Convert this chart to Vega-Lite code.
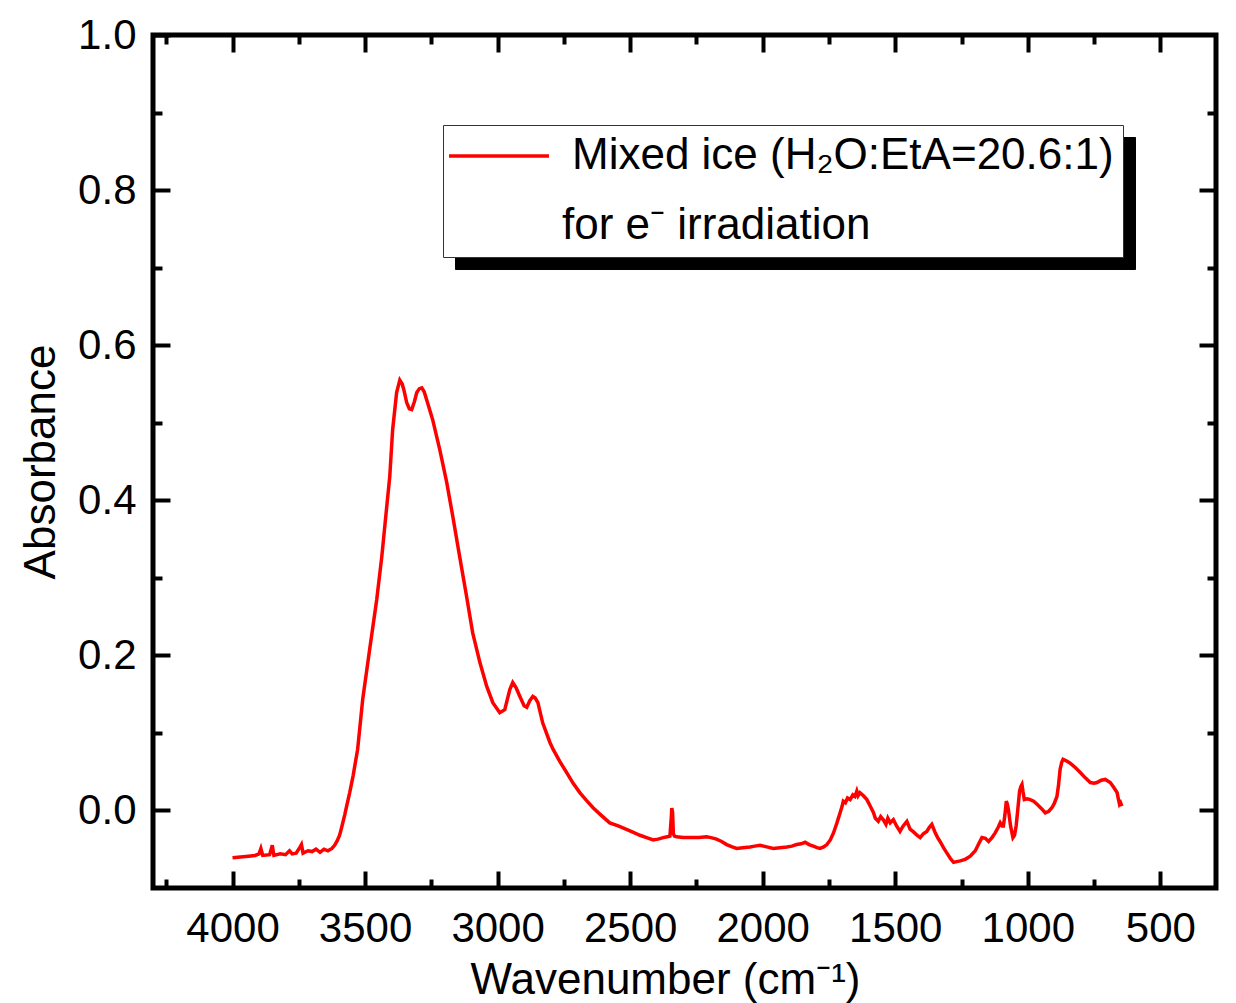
{
  "$schema": "https://vega.github.io/schema/vega-lite/v6.json",
  "width": 1063,
  "height": 853,
  "autosize": {"type": "none"},
  "padding": {"left": 153, "top": 35, "right": 20, "bottom": 115},
  "background": "white",
  "config": {
    "font": "Liberation Sans",
    "view": {"stroke": "black", "strokeWidth": 5},
    "axis": {"grid": false, "domain": false, "tickColor": "black", "tickWidth": 4, "labelColor": "black", "titleColor": "black", "titleFontWeight": "normal"}
  },
  "datasets": {
    "spec": [
      {"x": 4000, "y": -0.061}, {"x": 3970, "y": -0.060}, {"x": 3940, "y": -0.059}, {"x": 3915, "y": -0.058},
      {"x": 3900, "y": -0.056}, {"x": 3893, "y": -0.049}, {"x": 3886, "y": -0.058}, {"x": 3860, "y": -0.057},
      {"x": 3850, "y": -0.045}, {"x": 3844, "y": -0.058}, {"x": 3820, "y": -0.056}, {"x": 3800, "y": -0.057},
      {"x": 3785, "y": -0.052}, {"x": 3775, "y": -0.056}, {"x": 3760, "y": -0.055}, {"x": 3745, "y": -0.047},
      {"x": 3740, "y": -0.044}, {"x": 3734, "y": -0.055}, {"x": 3715, "y": -0.052}, {"x": 3700, "y": -0.053},
      {"x": 3685, "y": -0.050}, {"x": 3670, "y": -0.054}, {"x": 3655, "y": -0.050}, {"x": 3640, "y": -0.052},
      {"x": 3625, "y": -0.049}, {"x": 3615, "y": -0.045}, {"x": 3605, "y": -0.039}, {"x": 3596, "y": -0.032},
      {"x": 3587, "y": -0.020}, {"x": 3577, "y": -0.006}, {"x": 3568, "y": 0.008}, {"x": 3558, "y": 0.023},
      {"x": 3545, "y": 0.045}, {"x": 3528, "y": 0.079}, {"x": 3509, "y": 0.143}, {"x": 3483, "y": 0.207},
      {"x": 3456, "y": 0.272}, {"x": 3437, "y": 0.327}, {"x": 3422, "y": 0.379}, {"x": 3407, "y": 0.430},
      {"x": 3396, "y": 0.491}, {"x": 3381, "y": 0.539}, {"x": 3369, "y": 0.555}, {"x": 3360, "y": 0.550},
      {"x": 3354, "y": 0.543}, {"x": 3343, "y": 0.526}, {"x": 3333, "y": 0.518}, {"x": 3324, "y": 0.517},
      {"x": 3314, "y": 0.527}, {"x": 3305, "y": 0.539}, {"x": 3295, "y": 0.544}, {"x": 3286, "y": 0.545},
      {"x": 3277, "y": 0.540}, {"x": 3268, "y": 0.530}, {"x": 3245, "y": 0.504}, {"x": 3218, "y": 0.465},
      {"x": 3192, "y": 0.423}, {"x": 3169, "y": 0.379}, {"x": 3143, "y": 0.327}, {"x": 3117, "y": 0.276},
      {"x": 3094, "y": 0.229}, {"x": 3067, "y": 0.191}, {"x": 3041, "y": 0.160}, {"x": 3018, "y": 0.139},
      {"x": 2992, "y": 0.126}, {"x": 2973, "y": 0.130}, {"x": 2954, "y": 0.156}, {"x": 2943, "y": 0.165},
      {"x": 2930, "y": 0.158}, {"x": 2916, "y": 0.147}, {"x": 2900, "y": 0.135}, {"x": 2890, "y": 0.133},
      {"x": 2878, "y": 0.142}, {"x": 2867, "y": 0.147}, {"x": 2858, "y": 0.145}, {"x": 2848, "y": 0.139},
      {"x": 2830, "y": 0.113}, {"x": 2803, "y": 0.088}, {"x": 2791, "y": 0.079}, {"x": 2765, "y": 0.063},
      {"x": 2740, "y": 0.049}, {"x": 2715, "y": 0.035}, {"x": 2690, "y": 0.023}, {"x": 2665, "y": 0.013},
      {"x": 2640, "y": 0.0035}, {"x": 2610, "y": -0.006}, {"x": 2577, "y": -0.016}, {"x": 2545, "y": -0.020},
      {"x": 2514, "y": -0.0245}, {"x": 2490, "y": -0.028}, {"x": 2463, "y": -0.032}, {"x": 2438, "y": -0.035},
      {"x": 2413, "y": -0.038}, {"x": 2395, "y": -0.037}, {"x": 2375, "y": -0.035}, {"x": 2360, "y": -0.034},
      {"x": 2350, "y": -0.033}, {"x": 2345, "y": -0.010}, {"x": 2343, "y": 0.003}, {"x": 2340, "y": -0.002},
      {"x": 2337, "y": -0.030}, {"x": 2333, "y": -0.033}, {"x": 2325, "y": -0.034}, {"x": 2300, "y": -0.035},
      {"x": 2275, "y": -0.035}, {"x": 2240, "y": -0.035}, {"x": 2212, "y": -0.034}, {"x": 2195, "y": -0.035},
      {"x": 2174, "y": -0.037}, {"x": 2155, "y": -0.040}, {"x": 2136, "y": -0.044}, {"x": 2115, "y": -0.047},
      {"x": 2098, "y": -0.049}, {"x": 2075, "y": -0.048}, {"x": 2048, "y": -0.047}, {"x": 2030, "y": -0.046},
      {"x": 2010, "y": -0.045}, {"x": 1985, "y": -0.047}, {"x": 1960, "y": -0.049}, {"x": 1935, "y": -0.048},
      {"x": 1909, "y": -0.047}, {"x": 1890, "y": -0.046}, {"x": 1872, "y": -0.044}, {"x": 1855, "y": -0.043},
      {"x": 1840, "y": -0.041}, {"x": 1825, "y": -0.044}, {"x": 1809, "y": -0.046}, {"x": 1795, "y": -0.048},
      {"x": 1784, "y": -0.049}, {"x": 1770, "y": -0.047}, {"x": 1758, "y": -0.044}, {"x": 1745, "y": -0.038},
      {"x": 1733, "y": -0.029}, {"x": 1720, "y": -0.016}, {"x": 1708, "y": -0.003}, {"x": 1700, "y": 0.006},
      {"x": 1696, "y": 0.012}, {"x": 1688, "y": 0.010}, {"x": 1680, "y": 0.016}, {"x": 1670, "y": 0.014},
      {"x": 1660, "y": 0.020}, {"x": 1652, "y": 0.018}, {"x": 1645, "y": 0.025}, {"x": 1640, "y": 0.019},
      {"x": 1633, "y": 0.023}, {"x": 1620, "y": 0.019}, {"x": 1607, "y": 0.014}, {"x": 1595, "y": 0.006},
      {"x": 1582, "y": -0.003}, {"x": 1575, "y": -0.010}, {"x": 1564, "y": -0.014}, {"x": 1555, "y": -0.008},
      {"x": 1545, "y": -0.012}, {"x": 1535, "y": -0.018}, {"x": 1528, "y": -0.010}, {"x": 1519, "y": -0.016},
      {"x": 1507, "y": -0.012}, {"x": 1495, "y": -0.020}, {"x": 1482, "y": -0.027}, {"x": 1470, "y": -0.020},
      {"x": 1456, "y": -0.014}, {"x": 1444, "y": -0.024}, {"x": 1430, "y": -0.028}, {"x": 1418, "y": -0.032},
      {"x": 1406, "y": -0.035}, {"x": 1394, "y": -0.030}, {"x": 1381, "y": -0.027}, {"x": 1372, "y": -0.022},
      {"x": 1362, "y": -0.018}, {"x": 1350, "y": -0.028}, {"x": 1340, "y": -0.035}, {"x": 1331, "y": -0.040},
      {"x": 1318, "y": -0.048}, {"x": 1305, "y": -0.055}, {"x": 1292, "y": -0.062}, {"x": 1280, "y": -0.067},
      {"x": 1268, "y": -0.066}, {"x": 1255, "y": -0.065}, {"x": 1236, "y": -0.063}, {"x": 1217, "y": -0.059},
      {"x": 1198, "y": -0.052}, {"x": 1185, "y": -0.043}, {"x": 1173, "y": -0.035}, {"x": 1160, "y": -0.036},
      {"x": 1148, "y": -0.040}, {"x": 1135, "y": -0.035}, {"x": 1123, "y": -0.029}, {"x": 1112, "y": -0.022},
      {"x": 1104, "y": -0.016}, {"x": 1097, "y": -0.020}, {"x": 1092, "y": -0.020}, {"x": 1086, "y": -0.005},
      {"x": 1081, "y": 0.012}, {"x": 1077, "y": 0.008}, {"x": 1073, "y": 0.001}, {"x": 1065, "y": -0.020},
      {"x": 1056, "y": -0.035}, {"x": 1050, "y": -0.032}, {"x": 1044, "y": -0.020}, {"x": 1038, "y": 0.000},
      {"x": 1031, "y": 0.025}, {"x": 1026, "y": 0.031}, {"x": 1022, "y": 0.0335}, {"x": 1018, "y": 0.024},
      {"x": 1013, "y": 0.014}, {"x": 1002, "y": 0.015}, {"x": 991, "y": 0.014}, {"x": 978, "y": 0.012},
      {"x": 965, "y": 0.008}, {"x": 950, "y": 0.003}, {"x": 934, "y": -0.003}, {"x": 921, "y": -0.001},
      {"x": 909, "y": 0.0035}, {"x": 900, "y": 0.009}, {"x": 890, "y": 0.018}, {"x": 884, "y": 0.033},
      {"x": 878, "y": 0.053}, {"x": 872, "y": 0.062}, {"x": 867, "y": 0.066}, {"x": 855, "y": 0.064},
      {"x": 840, "y": 0.061}, {"x": 820, "y": 0.055}, {"x": 802, "y": 0.049}, {"x": 783, "y": 0.042},
      {"x": 764, "y": 0.036}, {"x": 750, "y": 0.035}, {"x": 739, "y": 0.036}, {"x": 723, "y": 0.039},
      {"x": 708, "y": 0.040}, {"x": 698, "y": 0.038}, {"x": 689, "y": 0.036}, {"x": 676, "y": 0.030},
      {"x": 663, "y": 0.023}, {"x": 659, "y": 0.016}, {"x": 654, "y": 0.008}, {"x": 650, "y": 0.010},
      {"x": 645, "y": 0.0055}
    ]
  },
  "data": {"name": "spec"},
  "resolve": {"axis": {"x": "independent", "y": "independent"}, "legend": {"color": "independent"}},
  "layer": [
    {
      "mark": {"type": "line", "opacity": 0},
      "encoding": {
        "x": {"field": "x", "type": "quantitative", "sort": null,
          "scale": {"domain": [290, 4300], "reverse": true, "nice": false, "zero": false},
          "axis": {"orient": "top", "values": [4000, 3500, 3000, 2500, 2000, 1500, 1000, 500], "tickSize": -17, "labels": false, "title": null}},
        "y": {"field": "y", "type": "quantitative",
          "scale": {"domain": [-0.1, 1.0], "nice": false, "zero": false},
          "axis": {"orient": "right", "values": [0, 0.2, 0.4, 0.6, 0.8], "tickSize": -17, "labels": false, "title": null}},
        "color": {"datum": "Mixed ice (H₂O:EtA=20.6:1)", "type": "nominal",
          "scale": {"range": ["#ff0000"]},
          "legend": {"orient": "none", "legendX": 302, "legendY": 102,
            "title": "\u200b\u00a0\u00a0\u00a0\u00a0\u00a0\u00a0\u00a0\u00a0\u00a0for e⁻ irradiation",
            "titleOrient": "bottom", "titleAnchor": "start", "titleFontSize": 44, "titleFontWeight": "normal", "titleColor": "black", "titleOpacity": 0, "titlePadding": 26, "titleLimit": 2000,
            "labelFontSize": 44, "labelColor": "black", "labelOpacity": 0, "labelOffset": 76, "labelLimit": 2000,
            "symbolType": "M-2,0H6", "symbolSize": 625, "symbolStrokeWidth": 3.5, "symbolOpacity": 0,
            "strokeColor": "black", "fillColor": "black", "padding": 9}}
      }
    },
    {
      "mark": {"type": "line", "color": "#ff0000", "strokeWidth": 3.5},
      "encoding": {
        "x": {"field": "x", "type": "quantitative", "sort": null,
          "axis": {"orient": "bottom", "values": [4000, 3500, 3000, 2500, 2000, 1500, 1000, 500], "format": "d", "tickSize": -17,
            "labelFontSize": 42, "labelPadding": 37, "labelFlush": false, "labelOverlap": false,
            "title": "Wavenumber (cm⁻¹)", "titleFontSize": 44, "titlePadding": 9, "titleX": 512}},
        "y": {"field": "y", "type": "quantitative",
          "axis": {"orient": "left", "values": [0, 0.2, 0.4, 0.6, 0.8, 1.0], "format": ".1f", "tickSize": -17,
            "labelFontSize": 42, "labelPadding": 34, "labelFlush": false, "labelOverlap": false,
            "title": "Absorbance", "titleFontSize": 44, "titlePadding": 14}},
        "color": {"datum": "Mixed ice (H₂O:EtA=20.6:1)", "type": "nominal",
          "legend": {"orient": "none", "legendX": 290, "legendY": 90,
            "title": "\u200b\u00a0\u00a0\u00a0\u00a0\u00a0\u00a0\u00a0\u00a0\u00a0for e⁻ irradiation",
            "titleOrient": "bottom", "titleAnchor": "start", "titleFontSize": 44, "titleFontWeight": "normal", "titleColor": "black", "titlePadding": 26, "titleLimit": 2000,
            "labelFontSize": 44, "labelColor": "black", "labelOffset": 76, "labelLimit": 2000,
            "symbolType": "M-2,0H6", "symbolSize": 625, "symbolStrokeWidth": 3.5,
            "strokeColor": "#333333", "fillColor": "white", "padding": 9}}
      }
    },
    {
      "mark": {"type": "line", "opacity": 0},
      "encoding": {
        "x": {"field": "x", "type": "quantitative", "sort": null,
          "axis": {"orient": "bottom", "values": [4250, 3750, 3250, 2750, 2250, 1750, 1250, 750], "tickSize": -9, "labels": false, "title": null}},
        "y": {"field": "y", "type": "quantitative",
          "axis": {"orient": "left", "values": [0.1, 0.3, 0.5, 0.7, 0.9], "tickSize": -9, "labels": false, "title": null}}
      }
    },
    {
      "mark": {"type": "line", "opacity": 0},
      "encoding": {
        "x": {"field": "x", "type": "quantitative", "sort": null,
          "axis": {"orient": "top", "values": [4250, 3750, 3250, 2750, 2250, 1750, 1250, 750], "tickSize": -9, "labels": false, "title": null}},
        "y": {"field": "y", "type": "quantitative",
          "axis": {"orient": "right", "values": [0.1, 0.3, 0.5, 0.7, 0.9], "tickSize": -9, "labels": false, "title": null}}
      }
    }
  ]
}
